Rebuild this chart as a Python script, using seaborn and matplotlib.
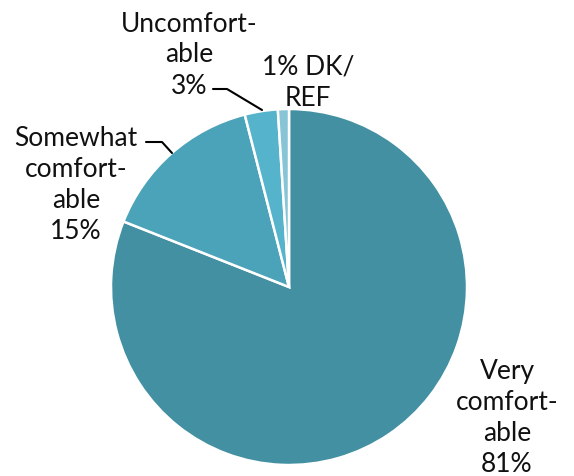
import matplotlib
matplotlib.use("Agg")
import matplotlib.pyplot as plt
import seaborn as sns

# data
categories = ["Very comfortable", "Somewhat comfortable", "Uncomfortable", "DK/REF"]
shares = [81, 15, 3, 1]
slice_colors = ["#4290A2", "#4AA3B9", "#55B3CB", "#86C4D6"]
label_texts = ["Very\ncomfort-\nable\n81%", "Somewhat\ncomfort-\nable\n15%",
               "Uncomfort-\nable\n3%", "1% DK/\nREF"]

sns.set_style("white")
plt.rcParams["font.family"] = ["Lato", "DejaVu Sans"]

fig = plt.figure(figsize=(5.74, 4.76), dpi=100)
ax = fig.add_axes([0, 0, 1, 1])
H = 476

ax.pie(shares, colors=slice_colors, startangle=90, counterclock=False,
       center=(289, H - 287), radius=178,
       wedgeprops=dict(edgecolor="white", linewidth=1.8))

# label positions (pixel coords, y from top)
label_pos = [(507, 418), (76, 185), (189, 55), (308, 83)]
for txt, (x, y) in zip(label_texts, label_pos):
    ax.text(x, H - y, txt, ha="center", va="center", fontsize=19,
            linespacing=1.3, color="#111111")

# leader lines
ax.plot([213, 227, 262], [H - 89, H - 89, H - 110], color="black", lw=1.5)
ax.plot([146, 162, 172], [H - 142, H - 142, H - 153], color="black", lw=1.5)

ax.set_xlim(0, 574)
ax.set_ylim(0, H)
ax.set_aspect("equal")
ax.axis("off")

fig.savefig("out.png", dpi=100)
